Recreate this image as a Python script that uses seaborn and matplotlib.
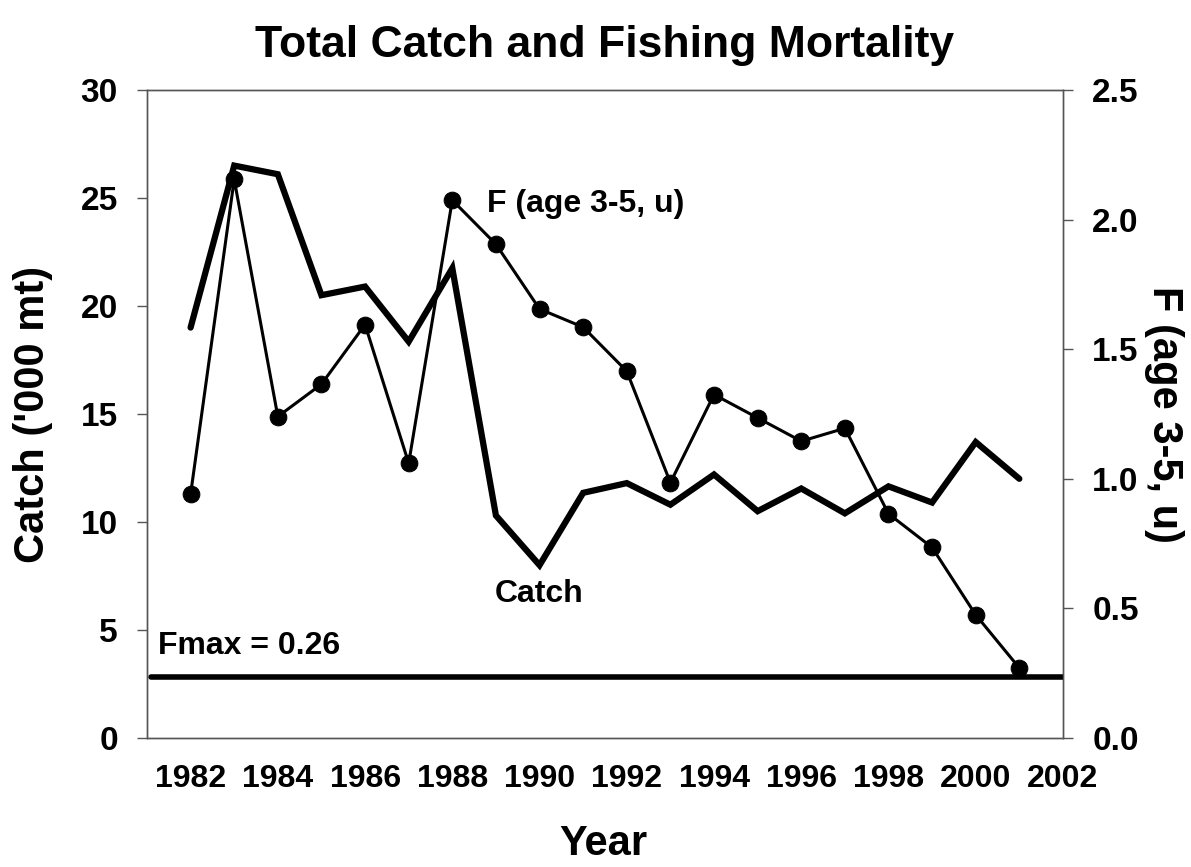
import numpy as np
import pandas as pd
import matplotlib
matplotlib.use("Agg")
import matplotlib.pyplot as plt
import seaborn as sns

sns.set_style("white")
plt.rcParams["font.family"] = ["Liberation Sans", "DejaVu Sans"]
plt.rcParams["font.weight"] = "bold"
plt.rcParams["text.color"] = "black"
plt.rcParams["axes.labelcolor"] = "black"
plt.rcParams["xtick.color"] = "black"
plt.rcParams["ytick.color"] = "black"

# DATA
years = list(range(1982, 2002))
catch_kt = [19.0, 26.5, 26.1, 20.5, 20.9, 18.35, 21.75, 10.3, 8.0, 11.35,
            11.8, 10.8, 12.2, 10.5, 11.55, 10.4, 11.65, 10.9, 13.7, 12.0]
f_age35 = [0.94, 2.155, 1.24, 1.365, 1.595, 1.06, 2.075, 1.905, 1.655, 1.585,
           1.415, 0.985, 1.325, 1.235, 1.145, 1.195, 0.865, 0.735, 0.475, 0.27]
fmax_level = 0.235

df = pd.DataFrame({"year": years, "catch": catch_kt, "F": f_age35})

fig = plt.figure(figsize=(11.91, 8.67), dpi=100)
ax = fig.add_axes([0.1234, 0.1488, 0.7691, 0.7474])
ax2 = ax.twinx()

# CATCH (left axis)
sns.lineplot(data=df, x="year", y="catch", ax=ax, color="black",
             linewidth=4.5, solid_joinstyle="miter")

# F (right axis)
sns.lineplot(data=df, x="year", y="F", ax=ax2, color="black", linewidth=2.2,
             marker="o", markersize=12, markeredgecolor="black")
ax2.hlines(fmax_level, 1981.1, 2002, color="black", linewidth=4,
           capstyle="round")

ax.set_xlim(1981, 2002)
ax.set_ylim(0, 30)
ax2.set_ylim(0, 2.5)
ax.set_xticks(range(1982, 2003, 2))
ax.set_yticks(range(0, 31, 5))
ax2.set_yticks(np.arange(0, 2.51, 0.5))
ax2.set_yticklabels([f"{v:.1f}" for v in np.arange(0, 2.51, 0.5)])
ax.set_xlabel("")
ax.set_ylabel("")
ax2.set_ylabel("")

for a in (ax, ax2):
    for s in a.spines.values():
        s.set_color("#555555")
        s.set_linewidth(1.0)
        s.set_visible(True)
    a.grid(False)

ax.tick_params(axis="x", direction="out", length=7, width=1,
               color="#555555", labelsize=23, pad=12)
ax.tick_params(axis="y", direction="out", length=7, width=1,
               color="#555555", labelsize=24, pad=14)
ax2.tick_params(axis="y", direction="out", length=7, width=1,
                color="#555555", labelsize=24, pad=14)
for lbl in ax.get_xticklabels() + ax.get_yticklabels() + ax2.get_yticklabels():
    lbl.set_fontweight("bold")

fig.text(0.507, 0.026, "Year", fontsize=30, fontweight="bold",
         ha="center", va="center")
fig.text(0.028, 0.522, "Catch ('000 mt)", fontsize=30, fontweight="bold",
         rotation=90, ha="center", va="center")
fig.text(0.977, 0.522, "F (age 3-5, u)", fontsize=30, fontweight="bold",
         rotation=-90, ha="center", va="center")

ax.text(1988.8, 24.7, "F (age 3-5, u)", fontsize=23, fontweight="bold",
        va="center", ha="left")
ax.text(1990.0, 6.67, "Catch", fontsize=23, fontweight="bold",
        va="center", ha="center")
ax.text(1981.25, 4.26, "Fmax = 0.26", fontsize=23, fontweight="bold",
        va="center", ha="left")

fig.text(0.5075, 0.948, "Total Catch and Fishing Mortality", fontsize=32,
         fontweight="bold", ha="center", va="center")

fig.savefig("out.png", dpi=100)
